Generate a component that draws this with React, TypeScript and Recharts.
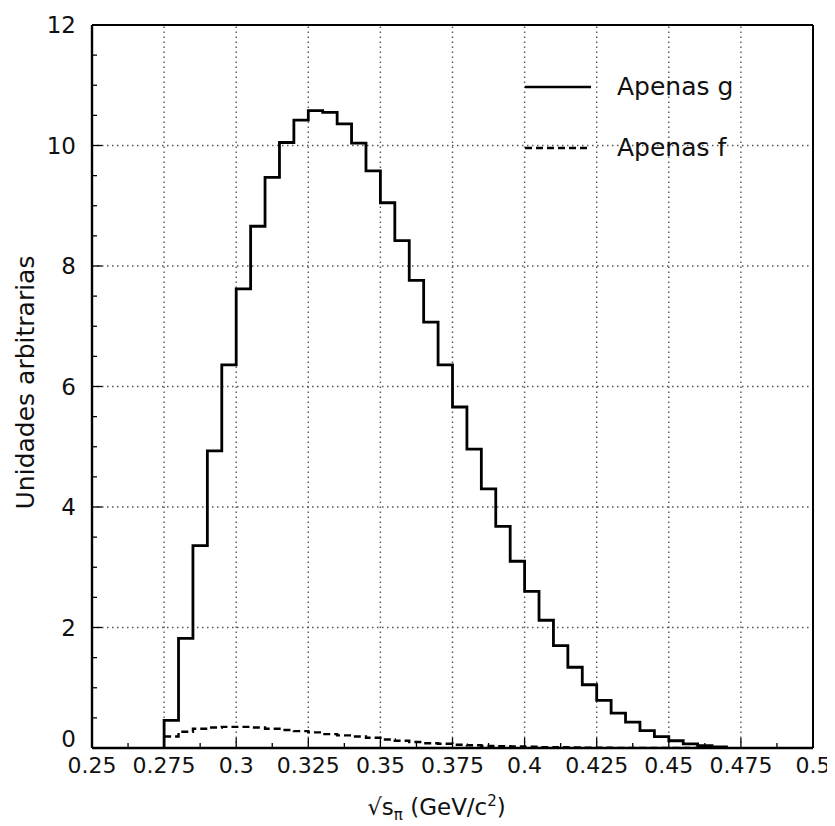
import React from 'react'
import {
  ComposedChart,
  Line,
  XAxis,
  YAxis,
  ReferenceLine,
  Legend,
} from 'recharts'

// bin lower edges (width 0.005)
const binStarts = [
  0.275, 0.28, 0.285, 0.29, 0.295, 0.3, 0.305, 0.31, 0.315, 0.32, 0.325, 0.33,
  0.335, 0.34, 0.345, 0.35, 0.355, 0.36, 0.365, 0.37, 0.375, 0.38, 0.385, 0.39,
  0.395, 0.4, 0.405, 0.41, 0.415, 0.42, 0.425, 0.43, 0.435, 0.44, 0.445, 0.45,
  0.455, 0.46, 0.465,
]
const histEnd = 0.47

// "Apenas g"
const onlyG = [
  0.46, 1.82, 3.36, 4.93, 6.36, 7.62, 8.66, 9.47, 10.05, 10.42, 10.58, 10.55,
  10.36, 10.04, 9.58, 9.05, 8.42, 7.76, 7.07, 6.36, 5.66, 4.96, 4.3, 3.68, 3.1,
  2.6, 2.12, 1.7, 1.34, 1.05, 0.79, 0.58, 0.43, 0.29, 0.19, 0.12, 0.07, 0.04,
  0.02,
]

// "Apenas f"
const onlyF = [
  0.19, 0.27, 0.32, 0.34, 0.35, 0.35, 0.34, 0.32, 0.3, 0.28, 0.26, 0.23, 0.21,
  0.19, 0.17, 0.14, 0.12, 0.1, 0.08, 0.07, 0.055, 0.045, 0.035, 0.03, 0.025,
  0.02, 0.015, 0.012, 0.008, 0.005, 0.003, 0.002, 0, 0, 0, 0, 0, 0, 0,
]

const xMajor = [0.25, 0.275, 0.3, 0.325, 0.35, 0.375, 0.4, 0.425, 0.45, 0.475, 0.5]
const xMinor = [0.2625, 0.2875, 0.3125, 0.3375, 0.3625, 0.3875, 0.4125, 0.4375, 0.4625, 0.4875]
const yMajor = [0, 2, 4, 6, 8, 10, 12]
const yMinor = [0.5, 1, 1.5, 2.5, 3, 3.5, 4.5, 5, 5.5, 6.5, 7, 7.5, 8.5, 9, 9.5, 10.5, 11, 11.5]

const gData = [
  { x: binStarts[0], v: 0 },
  ...binStarts.map((x, i) => ({ x, v: onlyG[i] })),
  { x: histEnd, v: 0 },
]
const fData = [
  ...binStarts.map((x, i) => ({ x, v: onlyF[i] })),
  { x: histEnd, v: 0 },
]

const FONT = '"DejaVu Sans", sans-serif'

const XTick = (props: any) => {
  const { x, y, payload } = props
  const major = xMajor.includes(payload.value)
  return (
    <g>
      <line x1={x} y1={y} x2={x} y2={y - (major ? 10 : 5)} stroke="#000" strokeWidth={1.3} />
      {major && (
        <text x={x} y={y + 25} textAnchor="middle" fontSize={22} fontFamily={FONT} fill="#111">
          {String(payload.value)}
        </text>
      )}
    </g>
  )
}

const YTick = (props: any) => {
  const { x, y, payload } = props
  const major = yMajor.includes(payload.value)
  return (
    <g>
      <line x1={x} y1={y} x2={x + (major ? 10 : 5)} y2={y} stroke="#000" strokeWidth={1.3} />
      {major && (
        <text
          x={x - 16}
          y={payload.value === 0 ? y - 1 : y + 8}
          textAnchor="end"
          fontSize={23}
          fontFamily={FONT}
          fill="#111"
        >
          {String(payload.value)}
        </text>
      )}
    </g>
  )
}

const XLabel = (props: any) => {
  const vb = props.viewBox
  return (
    <text x={vb.x + vb.width / 2 - 16} y={vb.y + 67} textAnchor="middle" fontSize={23} fontFamily={FONT} fill="#111">
      <tspan>√s</tspan>
      <tspan fontSize={15} dy={5}>π</tspan>
      <tspan dy={-5}> (GeV/c</tspan>
      <tspan fontSize={15} dy={-9}>2</tspan>
      <tspan dy={9}>)</tspan>
    </text>
  )
}

const YLabel = (props: any) => {
  const vb = props.viewBox
  const cx = vb.x + vb.width - 58
  const cy = vb.y + vb.height / 2 - 4
  return (
    <text
      x={cx}
      y={cy}
      transform={`rotate(-90 ${cx} ${cy})`}
      textAnchor="middle"
      fontSize={25}
      fontFamily={FONT}
      fill="#111"
    >
      Unidades arbitrarias
    </text>
  )
}

const legendItems = [
  { name: 'Apenas g', dash: undefined as string | undefined },
  { name: 'Apenas f', dash: '7 4' },
]

const LegendBox = () => (
  <div style={{ fontFamily: FONT, fontSize: 25, color: '#111' }}>
    {legendItems.map((it, i) => (
      <div key={it.name} style={{ display: 'flex', alignItems: 'center', height: 61 }}>
        <svg width={70} height={10} style={{ marginRight: 24 }}>
          <line x1={2} y1={5} x2={68} y2={5} stroke="#000" strokeWidth={i === 0 ? 2.6 : 2.4} strokeDasharray={it.dash} />
        </svg>
        <span>{it.name}</span>
      </div>
    ))}
  </div>
)

export default function App() {
  return (
    <ComposedChart
      width={827}
      height={818}
      margin={{ top: 17, right: 22, bottom: 0, left: 0 }}
      style={{ background: '#fff' }}
    >
      <XAxis
        type="number"
        dataKey="x"
        domain={[0.25, 0.5]}
        ticks={[...xMajor, ...xMinor]}
        interval={0}
        allowDataOverflow
        height={78}
        tickSize={0}
        tickMargin={0}
        tickLine={false}
        tick={<XTick />}
        axisLine={{ stroke: '#000', strokeWidth: 2.4 }}
        label={<XLabel />}
      />
      <YAxis
        type="number"
        domain={[0, 12]}
        ticks={[...yMajor, ...yMinor]}
        interval={0}
        allowDataOverflow
        width={84}
        tickSize={0}
        tickMargin={0}
        tickLine={false}
        tick={<YTick />}
        axisLine={{ stroke: '#000', strokeWidth: 2.4 }}
        label={<YLabel />}
      />
      {xMajor.slice(1, -1).map((v) => (
        <ReferenceLine key={'gx' + v} x={v} stroke="#555" strokeWidth={1.4} strokeDasharray="1.5 3.5" />
      ))}
      {yMajor.slice(1, -1).map((v) => (
        <ReferenceLine key={'gy' + v} y={v} stroke="#555" strokeWidth={1.4} strokeDasharray="1.5 3.5" />
      ))}
      <ReferenceLine x={0.5} stroke="#000" strokeWidth={2} />
      <ReferenceLine y={12} stroke="#000" strokeWidth={2} />
      <Line
        data={gData}
        dataKey="v"
        name="Apenas g"
        type="stepAfter"
        stroke="#000"
        strokeWidth={2.8}
        dot={false}
        isAnimationActive={false}
      />
      <Line
        data={fData}
        dataKey="v"
        name="Apenas f"
        type="stepAfter"
        stroke="#000"
        strokeWidth={2.4}
        strokeDasharray="7 4"
        dot={false}
        isAnimationActive={false}
      />
      <Legend
        layout="horizontal"
        verticalAlign="middle"
        align="center"
        content={<LegendBox />}
        wrapperStyle={{ top: 48, left: 515, width: 300, height: 130 }}
      />
    </ComposedChart>
  )
}
